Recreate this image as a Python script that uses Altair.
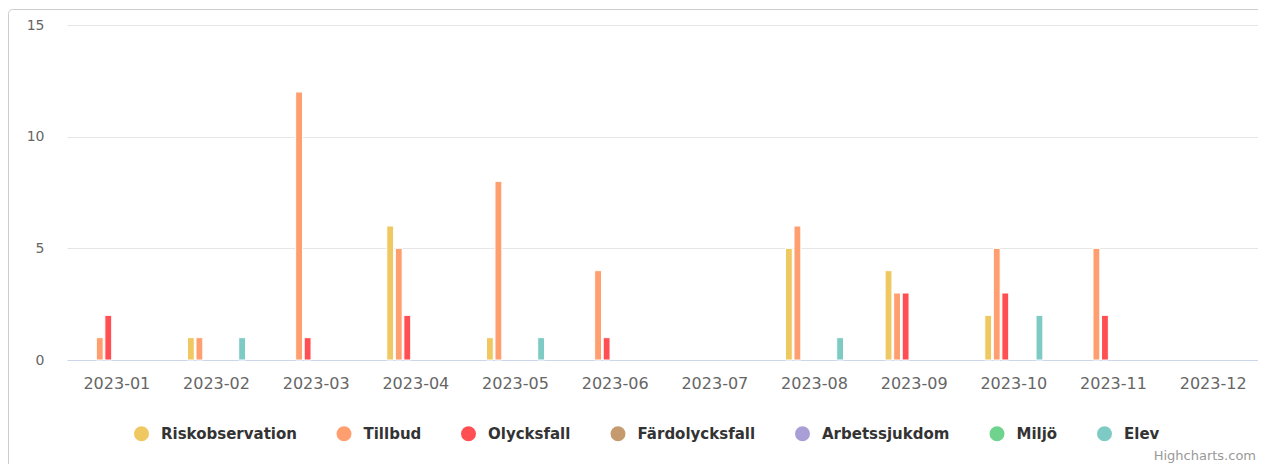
import altair as alt
import pandas as pd

months = ["2023-01", "2023-02", "2023-03", "2023-04", "2023-05", "2023-06",
          "2023-07", "2023-08", "2023-09", "2023-10", "2023-11", "2023-12"]
series = ["Riskobservation", "Tillbud", "Olycksfall", "Färdolycksfall",
          "Arbetssjukdom", "Miljö", "Elev"]
colors = ["#f0c862", "#ff9e6e", "#ff4f52", "#c49a6e", "#a99ed6", "#6fd38e", "#7ecbc5"]

riskobservation = [0, 1, 0, 6, 1, 0, 0, 5, 4, 2, 0, 0]
tillbud =         [1, 1, 12, 5, 8, 4, 0, 6, 3, 5, 5, 0]
olycksfall =      [2, 0, 1, 2, 0, 1, 0, 0, 3, 3, 2, 0]
fardolycksfall =  [0, 0, 0, 0, 0, 0, 0, 0, 0, 0, 0, 0]
arbetssjukdom =   [0, 0, 0, 0, 0, 0, 0, 0, 0, 0, 0, 0]
miljo =           [0, 0, 0, 0, 0, 0, 0, 0, 0, 0, 0, 0]
elev =            [0, 1, 0, 0, 1, 0, 0, 1, 0, 2, 0, 0]

values = [riskobservation, tillbud, olycksfall, fardolycksfall, arbetssjukdom, miljo, elev]
rows = []
for s, vals in zip(series, values):
    for m, v in zip(months, vals):
        rows.append({"month": m, "series": s, "value": v})
df = pd.DataFrame(rows)

W = 1191
H = 335
FONT = "DejaVu Sans"

bars = alt.Chart(df).transform_filter("datum.value > 0").mark_bar(
    stroke="white", strokeWidth=1
).encode(
    x=alt.X("month:N", sort=months,
            scale=alt.Scale(domain=months, paddingInner=0.4, paddingOuter=0.2, range=[0, 1196]),
            axis=alt.Axis(title=None, labelAngle=0, ticks=False, labelPadding=15,
                          labelFontSize=16, labelColor="#666666", labelFont=FONT,
                          domainColor="#ccd6eb", domainWidth=1, grid=False)),
    xOffset=alt.XOffset("series:N",
                        scale=alt.Scale(domain=series, paddingInner=0.2, paddingOuter=0.1)),
    y=alt.Y("value:Q", scale=alt.Scale(domain=[0, 15], nice=False),
            axis=alt.Axis(title=None, values=[0, 5, 10, 15], domain=False, ticks=False,
                          labelPadding=23, labelFontSize=14, labelColor="#666666",
                          labelFont=FONT, gridColor="#e6e6e6", gridWidth=1)),
    color=alt.Color("series:N", sort=series,
                    scale=alt.Scale(domain=series, range=colors),
                    legend=alt.Legend(title=None, orient="none", legendX=67, legendY=401,
                                      direction="horizontal", columns=7, columnPadding=39.5,
                                      symbolType="circle", symbolSize=225,
                                      symbolStrokeWidth=0, labelFontSize=15,
                                      labelFontWeight="bold", labelColor="#333333",
                                      labelFont=FONT, labelOffset=12)),
)

one = pd.DataFrame({"k": [0]})

border = alt.Chart(one).mark_rect(
    fill=None, stroke="#cccccc", strokeWidth=1, cornerRadius=4
).encode(
    x=alt.value(-58.5), x2=alt.value(W + 60), y=alt.value(-15.5), y2=alt.value(H + 200)
)

credit = alt.Chart(one).mark_text(
    text="Highcharts.com", align="right", baseline="alphabetic",
    fontSize=13, color="#999999", font=FONT
).encode(x=alt.value(1189), y=alt.value(435))

chart = alt.layer(border, bars, credit).properties(
    width=W, height=H,
    background="white",
    autosize=alt.AutoSizeParams(type="none"),
    padding={"left": 59, "top": 17, "right": 0, "bottom": 104},
).configure_view(stroke="transparent", strokeWidth=0)

chart.save("out.html", embed_options={"renderer": "svg", "actions": False})
